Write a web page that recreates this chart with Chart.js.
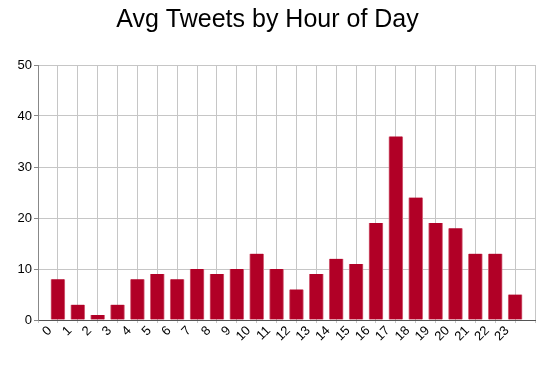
<!DOCTYPE html>
<html>
<head>
<meta charset="utf-8">
<script src="https://cdn.jsdelivr.net/npm/chart.js@4/dist/chart.umd.min.js"></script>
<style>
  html, body { margin: 0; padding: 0; background: #fff; }
  #wrap { width: 558px; height: 370px; position: relative; }
</style>
</head>
<body>
<div id="wrap"><canvas id="chart"></canvas></div>
<script>
'use strict';

// hours of the day and average tweet counts
const hours = [0, 1, 2, 3, 4, 5, 6, 7, 8, 9, 10, 11, 12, 13, 14, 15, 16, 17, 18, 19, 20, 21, 22, 23];
const avgTweets = [8, 3, 1, 3, 8, 9, 8, 10, 9, 10, 13, 10, 6, 9, 12, 11, 19, 36, 24, 19, 18, 13, 13, 5];
const yTicks = [0, 10, 20, 30, 40, 50];

const FONT = 'Liberation Sans, Arial, sans-serif';
const GRID = '#c6c6c6';

const ctx = document.getElementById('chart').getContext('2d');

new Chart(ctx, {
  type: 'bar',
  data: {
    datasets: [{
      data: hours.map((h, i) => ({ x: h, y: avgTweets[i] })),
      backgroundColor: '#b10026',
      borderColor: '#d4667c',
      borderWidth: { top: 0, left: 1, right: 1, bottom: 0 },
      barThickness: 14,
    }],
  },
  options: {
    responsive: true,
    maintainAspectRatio: false,
    animation: false,
    layout: { padding: { left: 0, right: 23, top: 0, bottom: 0 } },
    plugins: {
      legend: { display: false },
      tooltip: { enabled: false },
      title: {
        display: true,
        text: 'Avg Tweets by Hour of Day',
        color: '#000',
        font: { family: FONT, size: 25, weight: 'normal' },
        padding: { top: 5, bottom: 30 },
      },
    },
    scales: {
      x: {
        type: 'linear',
        min: -1,
        max: 24,
        offset: false,
        afterBuildTicks: scale => {
          const t = [];
          for (let v = -1; v <= 24; v++) t.push({ value: v });
          scale.ticks = t;
        },
        afterFit: scale => { scale.height = 50; },
        grid: { offset: false, color: GRID, tickLength: 3, tickColor: GRID },
        border: { color: '#555' },
        ticks: {
          autoSkip: false,
          minRotation: 45,
          maxRotation: 45,
          labelOffset: -8,
          padding: 0,
          color: '#000',
          font: { family: FONT, size: 13 },
          callback: v => (hours.includes(v) ? String(v) : ''),
        },
      },
      y: {
        min: 0,
        max: 50,
        afterBuildTicks: scale => { scale.ticks = yTicks.map(v => ({ value: v })); },
        afterFit: scale => { scale.width = 38; },
        grid: { color: GRID, tickLength: 4, tickColor: '#888' },
        border: { color: '#888' },
        ticks: {
          padding: 2,
          color: '#000',
          font: { family: FONT, size: 13 },
        },
      },
    },
  },
});
</script>
</body>
</html>
